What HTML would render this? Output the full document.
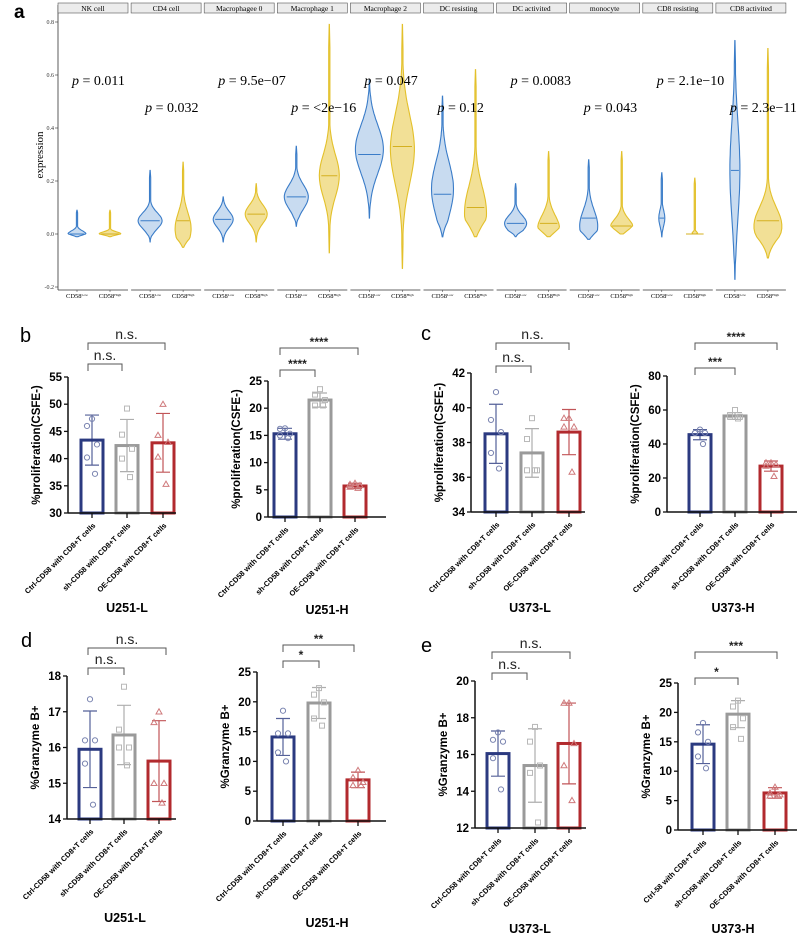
<!DOCTYPE html>
<html><head><meta charset="utf-8">
<style>
html,body{margin:0;padding:0;background:#fff;}
svg{display:block;}
.sans{font-family:"Liberation Sans",Arial,sans-serif;}
.serif{font-family:"Liberation Serif","Times New Roman",serif;}
</style></head>
<body>
<svg id="fig" width="800" height="935" viewBox="0 0 800 935" xmlns="http://www.w3.org/2000/svg"></svg>
<script>
// ===== Panel a data =====
const facetNames = ["NK  cell","CD4  cell","Macrophagee 0","Macrophage 1","Macrophage 2","DC resisting","DC activited","monocyte","CD8  resisting","CD8 activited"];
const lowMin  = [-0.01,-0.03,-0.03,0.03,0.06,-0.01,-0.01,-0.02,-0.01,-0.17];
const lowMax  = [0.09,0.24,0.14,0.33,0.58,0.52,0.19,0.28,0.23,0.73];
const lowMed  = [0.0,0.05,0.055,0.14,0.30,0.15,0.04,0.06,0.06,0.24];
const lowMode = [0.0,0.05,0.055,0.14,0.32,0.17,0.04,0.03,0.06,0.24];
const lowSpread=[0.012,0.03,0.03,0.045,0.09,0.1,0.03,0.06,0.03,0.18];
const highMin = [-0.01,-0.05,-0.03,-0.07,-0.13,-0.01,-0.01,0.0,0.0,-0.09];
const highMax = [0.09,0.27,0.19,0.79,0.79,0.62,0.31,0.31,0.21,0.70];
const highMed = [0.0,0.05,0.075,0.22,0.33,0.10,0.04,0.03,0.0,0.05];
const highMode= [0.0,0.02,0.075,0.22,0.32,0.08,0.02,0.02,0.0,0.03];
const highSpread=[0.008,0.06,0.035,0.08,0.13,0.1,0.05,0.035,0.006,0.07];
const pLabels = ["0.011","0.032","9.5e\u221207","<2e\u221216","0.047","0.12","0.0083","0.043","2.1e\u221210","2.3e\u221211"];
const yTicksA = [0.8,0.6,0.4,0.2,0.0,-0.2];

// ===== Bar panel data =====
const groups = ["Ctrl-CD58 with CD8+T cells","sh-CD58 with CD8+T cells","OE-CD58 with CD8+T cells"];
const groupsE = ["Ctrl-58 with CD8+T cells","sh-CD58 with CD8+T cells","OE-CD58 with CD8+T cells"];
const bLMeans=[43.4,42.4,42.9]; const bLErr=[4.6,4.8,5.4];
const bLPts=[[47.3,46,42.6,40.2,37.2],[49.2,44.4,41.8,40,36.6],[50,44.3,43,40.3,35.3]];
const bLTicks=[30,35,40,45,50,55];
const bRMeans=[15.3,21.5,5.7]; const bRErr=[1.0,1.3,0.5];
const bRPts=[[16.3,16.2,15.3,15,14.5],[23.5,22.5,21.5,20.5,20.5],[6.2,6,5.8,5.5,5.3]];
const bRTicks=[0,5,10,15,20,25];
const cLMeans=[38.5,37.4,38.6]; const cLErr=[1.7,1.4,1.3];
const cLPts=[[40.9,39.3,38.6,37.4,36.5],[39.4,38.2,36.4,36.4,36.4],[39.4,39.4,38.9,38.9,36.3]];
const cLTicks=[34,36,38,40,42];
const cRMeans=[45.5,56.5,27]; const cRErr=[3,2,3];
const cRPts=[[48.5,46.5,46.5,46.5,40],[60,57,56,56,55],[29,29,28,27,21]];
const cRTicks=[0,20,40,60,80];
const dLMeans=[15.95,16.35,15.62]; const dLErr=[1.07,0.83,1.13];
const dLPts=[[17.35,16.2,16.2,15.55,14.4],[17.7,16.5,16,16,15.5],[17,16.7,15,15,14.45]];
const dLTicks=[14,15,16,17,18];
const dRMeans=[14.1,19.8,6.9]; const dRErr=[3.1,2.6,1.3];
const dRPts=[[18.5,14.7,14.7,11.5,10],[22.3,21.2,19.9,17.2,16],[8.5,7.3,6.5,6,6]];
const dRTicks=[0,5,10,15,20,25];
const eLMeans=[16.05,15.4,16.6]; const eLErr=[1.23,2.0,2.2];
const eLPts=[[17.2,16.8,16.7,15.8,14.1],[17.5,16.7,15.4,15.0,12.3],[18.8,18.8,16.6,15.4,13.5]];
const eLTicks=[12,14,16,18,20];
const eRMeans=[14.6,19.7,6.3]; const eRErr=[3.3,2.3,0.9];
const eRPts=[[18.2,16.6,15,12.5,10.5],[22,21,19,17.5,15.5],[7.3,6.3,6,5.8,5.8]];
const eRTicks=[0,5,10,15,20,25];

const NS="http://www.w3.org/2000/svg";
const svg=document.getElementById('fig');
function mk(tag,attrs,parent,text){const e=document.createElementNS(NS,tag);for(const k in attrs)e.setAttribute(k,attrs[k]);if(text!==undefined)e.textContent=text;(parent||svg).appendChild(e);return e;}

// ===== Panel a =====
const ga=mk('g',{});


const ay=v=>234-v*265;
const lbl=mk('text',{x:14,y:18,'font-size':19,'font-weight':'bold',class:'sans'},ga,'a');

mk('line',{x1:58,y1:5,x2:58,y2:290,stroke:'#333','stroke-width':0.8},ga);
yTicksA.forEach(t=>{
  mk('line',{x1:55,x2:58,y1:ay(t),y2:ay(t),stroke:'#333','stroke-width':0.6},ga);
  const tx=mk('text',{x:54,y:ay(t)+2,'font-size':6,'text-anchor':'end',class:'serif',fill:'#333'},ga,t.toFixed(1));
  
});
const yt=mk('text',{x:0,y:0,'font-size':11,'text-anchor':'middle',class:'serif',transform:'translate(43,155) rotate(-90)'},ga,'expression');


function violinPath(cx,mn,mx,mode,s,W){
  const n=50;let right=[],left=[];
  for(let i=0;i<=n;i++){
    const v=mn+(mx-mn)*i/n;
    let w=W*Math.exp(-0.5*((v-mode)/s)**2);
    const edge=Math.min(i,n-i)/n; w=Math.max(w,0.6)*Math.min(1,edge*8+0.15);
    right.push([cx+w,ay(v)]);left.push([cx-w,ay(v)]);
  }
  let d='M'+cx+','+ay(mn);
  right.forEach(p=>d+=' L'+p[0].toFixed(1)+','+p[1].toFixed(1));
  d+=' L'+cx+','+ay(mx);
  left.reverse().forEach(p=>d+=' L'+p[0].toFixed(1)+','+p[1].toFixed(1));
  return d+'Z';
}
const lowW=[9,12,10,12,14,11,11,9,3,5];
const highW=[11,8,11,10,12,11,11,12,11,14];
const pRow=[0,1,0,1,0,1,0,1,0,1];
facetNames.forEach((name,i)=>{
  const x0=58+i*73.1, x1=x0+70;
  const fg=mk('g',{},ga);
  
  
  const st=mk('rect',{x:x0,y:3,width:70,height:10,fill:'#ececec',stroke:'#555','stroke-width':0.6},fg);
  
  mk('text',{x:x0+35,y:11,'font-size':7.5,'text-anchor':'middle',class:'serif'},fg,name);
  mk('line',{x1:x0,x2:x1,y1:290,y2:290,stroke:'#333','stroke-width':0.7},fg);
  const cL=x0+19, cH=x0+52;
  [[cL,'Low'],[cH,'High']].forEach(([cx,s])=>{
    mk('line',{x1:cx,x2:cx,y1:290,y2:292,stroke:'#333','stroke-width':0.5},fg);
    const t=mk('text',{x:cx,y:298,'font-size':6.5,'text-anchor':'middle',class:'serif'},fg);
    
    mk('tspan',{},t,'CD58');mk('tspan',{'font-size':3.5,dy:-2},t,s);
  });
  const vl=mk('path',{d:violinPath(cL,lowMin[i],lowMax[i],lowMode[i],lowSpread[i],lowW[i]),fill:'rgba(58,124,200,0.28)',stroke:'#3a7cc8','stroke-width':1.1},fg);
  
  mk('line',{x1:cL-lowW[i]*0.8,x2:cL+lowW[i]*0.8,y1:ay(lowMed[i]),y2:ay(lowMed[i]),stroke:'#3a7cc8','stroke-width':1},fg);
  const vh=mk('path',{d:violinPath(cH,highMin[i],highMax[i],highMode[i],highSpread[i],highW[i]),fill:'rgba(230,194,46,0.5)',stroke:'#e3c02a','stroke-width':1.1},fg);
  
  mk('line',{x1:cH-highW[i]*0.8,x2:cH+highW[i]*0.8,y1:ay(highMed[i]),y2:ay(highMed[i]),stroke:'#d4b020','stroke-width':1},fg);
  const py=pRow[i]?112:85;
  const pt=mk('text',{x:x0+14,y:py,'font-size':14,class:'serif'},fg);
  
  mk('tspan',{'font-style':'italic'},pt,'p');mk('tspan',{},pt,' = '+pLabels[i]);
});

// ===== bar panels =====
const colors=['#2b3a80','#9a9a9a','#b22a2e'];
const ptColors=['#7a84b0','#b8b8b8','#cf7a7c'];
function barPanel(cfg){
  const g=mk('g',{});
  
  
  const tmin=cfg.ticks[0], tmax=cfg.ticks[cfg.ticks.length-1];
  const Y=v=>cfg.yBot-(v-tmin)/(tmax-tmin)*(cfg.yBot-cfg.yTop);
  cfg.means.forEach((m,i)=>{
    const cx=cfg.bars[i];
    const b=mk('rect',{x:cx-11,y:Y(m),width:22,height:Y(tmin)-Y(m),fill:'#fff',stroke:colors[i],'stroke-width':3},g);
    
    const lo=Y(m-cfg.err[i]), hi=Y(m+cfg.err[i]);
    const eb=mk('path',{d:`M${cx},${lo}L${cx},${hi}M${cx-7},${hi}L${cx+7},${hi}M${cx-7},${lo}L${cx+7},${lo}`,stroke:colors[i],'stroke-width':1.2,fill:'none',opacity:0.8},g);
    
    const offs=[0,-5,5,-5,3];
    cfg.pts[i].forEach((v,j)=>{
      const px=cx+offs[j], py=Y(v);
      let e;
      if(i===0) e=mk('circle',{cx:px,cy:py,r:2.6,fill:'none',stroke:ptColors[i],'stroke-width':1},g);
      else if(i===1) e=mk('rect',{x:px-2.5,y:py-2.5,width:5,height:5,fill:'none',stroke:ptColors[i],'stroke-width':1},g);
      else e=mk('path',{d:`M${px},${py-3}L${px+3},${py+2.2}L${px-3},${py+2.2}Z`,fill:'none',stroke:ptColors[i],'stroke-width':1},g);
      
    });
    mk('line',{x1:cx,x2:cx,y1:cfg.yBot,y2:cfg.yBot+5,stroke:'#111','stroke-width':1.3},g);
    const xl=mk('text',{x:0,y:0,'font-size':7.5,'font-weight':'bold','text-anchor':'end',class:'sans',transform:`translate(${cx+4},${cfg.yBot+13}) rotate(-45)`},g,cfg.labels[i]);
    
  });
  mk('line',{x1:cfg.ax,x2:cfg.ax,y1:cfg.yTop,y2:cfg.yBot,stroke:'#111','stroke-width':1.5},g);
  mk('line',{x1:cfg.ax,x2:cfg.xEnd,y1:cfg.yBot,y2:cfg.yBot,stroke:'#111','stroke-width':1.5},g);
  cfg.ticks.forEach(t=>{
    mk('line',{x1:cfg.ax-4,x2:cfg.ax,y1:Y(t),y2:Y(t),stroke:'#111','stroke-width':1.3},g);
    const tl=mk('text',{x:cfg.ax-6,y:Y(t)+4,'font-size':11.5,'font-weight':'bold','text-anchor':'end',class:'sans'},g,String(t));
    
  });
  const yt=mk('text',{x:0,y:0,'font-size':11.5,'font-weight':'bold','text-anchor':'middle',class:'sans',transform:`translate(${cfg.ax-28},${(cfg.yTop+cfg.yBot)/2}) rotate(-90)`},g,cfg.ytitle);
  
  cfg.brackets.forEach(br=>{
    const [x1,x2,y,txt]=br;
    const p=mk('path',{d:`M${x1},${y+7}L${x1},${y}L${x2},${y}L${x2},${y+7}`,fill:'none',stroke:'#555','stroke-width':1},g);
    
    const ns=txt==='n.s.';
    const st=mk('text',{x:(x1+x2)/2,y:ns?y-4:y-2,'font-size':ns?14:12,'font-weight':ns?'normal':'bold','text-anchor':'middle',class:'sans',fill:'#222'},g,txt);
    
  });
  const tt=mk('text',{x:cfg.title[1],y:cfg.title[2],'font-size':12.5,'font-weight':'bold','text-anchor':'middle',class:'sans'},g,cfg.title[0]);
  
}
const prol='%proliferation(CSFE-)', gran='%Granzyme B+';
barPanel({name:'panel-b-u251-l',ax:68,yTop:377,yBot:513,xEnd:176,bars:[92,127,163],ticks:bLTicks,means:bLMeans,err:bLErr,pts:bLPts,labels:groups,ytitle:prol,brackets:[[88,122,364,'n.s.'],[88,165,343,'n.s.']],title:['U251-L',127,612]});
barPanel({name:'panel-b-u251-h',ax:268,yTop:381,yBot:517,xEnd:386,bars:[285,320,355],ticks:bRTicks,means:bRMeans,err:bRErr,pts:bRPts,labels:groups,ytitle:prol,brackets:[[280,315,370,'****'],[280,358,348,'****']],title:['U251-H',327,614]});
barPanel({name:'panel-c-u373-l',ax:471,yTop:373,yBot:512,xEnd:585,bars:[496,532,569],ticks:cLTicks,means:cLMeans,err:cLErr,pts:cLPts,labels:groups,ytitle:prol,brackets:[[496,531,366,'n.s.'],[496,569,343,'n.s.']],title:['U373-L',530,612]});
barPanel({name:'panel-c-u373-h',ax:667,yTop:376,yBot:512,xEnd:797,bars:[700,735,771],ticks:cRTicks,means:cRMeans,err:cRErr,pts:cRPts,labels:groups,ytitle:prol,brackets:[[695,735,368,'***'],[695,777,343,'****']],title:['U373-H',733,612]});
barPanel({name:'panel-d-u251-l',ax:67,yTop:676,yBot:819,xEnd:176,bars:[90,124,159],ticks:dLTicks,means:dLMeans,err:dLErr,pts:dLPts,labels:groups,ytitle:gran,brackets:[[88,124,668,'n.s.'],[88,166,648,'n.s.']],title:['U251-L',125,922]});
barPanel({name:'panel-d-u251-h',ax:257,yTop:672,yBot:821,xEnd:386,bars:[283,319,358],ticks:dRTicks,means:dRMeans,err:dRErr,pts:dRPts,labels:groups,ytitle:gran,brackets:[[283,319,661,'*'],[283,354,645,'**']],title:['U251-H',327,927]});
barPanel({name:'panel-e-u373-l',ax:475,yTop:681,yBot:828,xEnd:586,bars:[498,535,569],ticks:eLTicks,means:eLMeans,err:eLErr,pts:eLPts,labels:groups,ytitle:gran,brackets:[[492,527,673,'n.s.'],[492,570,652,'n.s.']],title:['U373-L',530,933]});
barPanel({name:'panel-e-u373-h',ax:678,yTop:683,yBot:830,xEnd:797,bars:[703,738,775],ticks:eRTicks,means:eRMeans,err:eRErr,pts:eRPts,labels:groupsE,ytitle:gran,brackets:[[695,738,678,'*'],[695,777,652,'***']],title:['U373-H',733,933]});

[['b',20,342],['c',421,340],['d',21,647],['e',421,652]].forEach(([t,x,y])=>{
  const l=mk('text',{x:x,y:y,'font-size':20,class:'sans'},svg,t);
  
  
});
</script>
</body></html>
